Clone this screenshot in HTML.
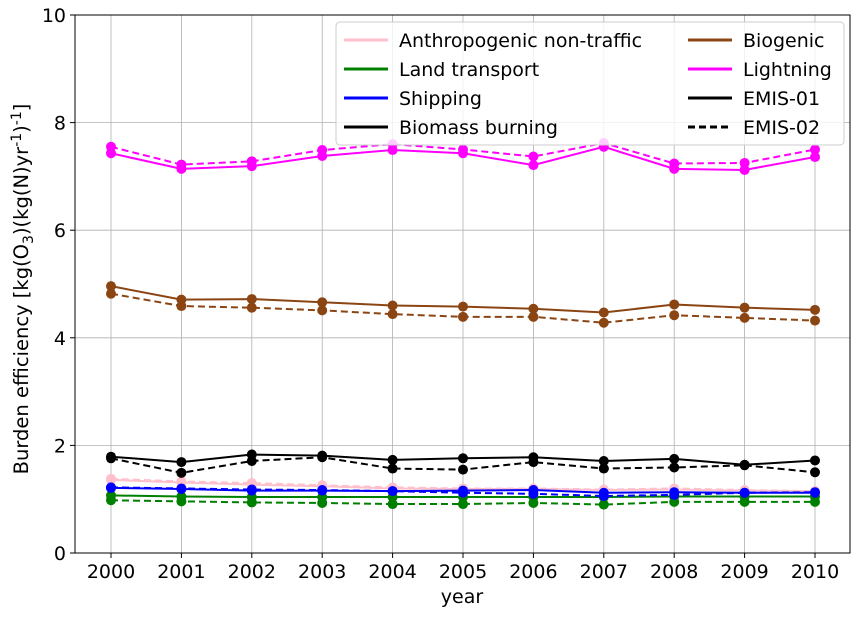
<!DOCTYPE html>
<html><head><meta charset="utf-8"><style>
body{margin:0;background:#fff}
svg{font-family:"DejaVu Sans","Liberation Sans",sans-serif}
</style></head><body>
<svg id="c" width="860" height="614" xmlns="http://www.w3.org/2000/svg">
<rect width="860" height="614" fill="#fff"/>
<g id="grid"></g>
<g id="series"></g>
<rect x="75" y="15" width="775" height="538" fill="none" stroke="#000" stroke-width="1"/>
<g id="axes"></g>
<text x="462" y="603" text-anchor="middle" font-size="19">year</text>
<text transform="translate(28,289) rotate(-90)" text-anchor="middle" font-size="19.5">Burden efficiency [kg(O<tspan font-size="14" dy="5">3</tspan><tspan dy="-5">)(kg(N)yr</tspan><tspan font-size="14" dy="-7">-1</tspan><tspan dy="7">)</tspan><tspan font-size="14" dy="-7">-1</tspan><tspan dy="7">]</tspan></text>
<g id="legend">
<rect x="336" y="22" width="508" height="123" rx="4" fill="#fff" fill-opacity="0.8" stroke="#ccc"/>
</g>
</svg>
<script>
const years=[2000,2001,2002,2003,2004,2005,2006,2007,2008,2009,2010];
const yTicks=[0,2,4,6,8,10];
const lightning1=[7.43,7.14,7.19,7.38,7.49,7.43,7.21,7.55,7.14,7.12,7.36];
const lightning2=[7.55,7.22,7.28,7.49,7.6,7.5,7.37,7.62,7.24,7.25,7.5];
const biogenic1=[4.96,4.71,4.72,4.66,4.6,4.58,4.54,4.47,4.62,4.56,4.52];
const biogenic2=[4.82,4.59,4.56,4.51,4.44,4.39,4.39,4.28,4.42,4.37,4.32];
const biomass1=[1.79,1.69,1.83,1.81,1.73,1.76,1.78,1.71,1.75,1.64,1.72];
const biomass2=[1.76,1.49,1.71,1.78,1.57,1.55,1.69,1.57,1.59,1.63,1.50];
const anthro1=[1.36,1.31,1.27,1.24,1.2,1.19,1.19,1.17,1.18,1.16,1.15];
const anthro2=[1.38,1.33,1.3,1.26,1.22,1.2,1.2,1.18,1.2,1.17,1.15];
const ship1=[1.21,1.19,1.16,1.16,1.15,1.16,1.17,1.12,1.13,1.12,1.12];
const ship2=[1.22,1.2,1.18,1.17,1.15,1.12,1.1,1.06,1.08,1.12,1.13];
const land1=[1.07,1.05,1.04,1.04,1.04,1.04,1.04,1.04,1.05,1.05,1.05];
const land2=[0.98,0.96,0.94,0.93,0.91,0.91,0.93,0.9,0.95,0.95,0.95];
const NS="http://www.w3.org/2000/svg";
const X=v=>111+(v-2000)*70.4, Y=v=>553-v*53.8;
function mk(t,a,p){const e=document.createElementNS(NS,t);for(const k in a)e.setAttribute(k,a[k]);p.appendChild(e);return e;}
const grid=document.getElementById('grid'),axes=document.getElementById('axes'),ser=document.getElementById('series'),leg=document.getElementById('legend');
years.forEach(y=>{
 const g=mk('line',{x1:X(y),x2:X(y),y1:15,y2:553,stroke:'#b0b0b0','stroke-width':0.8},grid);
 
 
 mk('line',{x1:X(y),x2:X(y),y1:553,y2:558,stroke:'#000'},axes);
 const t=mk('text',{x:X(y),y:578,'text-anchor':'middle','font-size':19},axes);t.textContent=y;
 
 
});
yTicks.forEach(v=>{
 const g=mk('line',{x1:75,x2:850,y1:Y(v),y2:Y(v),stroke:'#b0b0b0','stroke-width':0.8},grid);
 
 
 mk('line',{x1:70,x2:75,y1:Y(v),y2:Y(v),stroke:'#000'},axes);
 const t=mk('text',{x:66,y:Y(v)+7,'text-anchor':'end','font-size':19},axes);t.textContent=v;
 
 
});
const S=[['land-transport',land1,land2,'green'],['anthropogenic-non-traffic',anthro1,anthro2,'pink'],['shipping',ship1,ship2,'blue'],['biomass-burning',biomass1,biomass2,'black'],['biogenic',biogenic1,biogenic2,'#8b4513'],['lightning',lightning1,lightning2,'magenta']];
S.forEach(([n,a,b,c])=>{
 [[a,null,'emis-01'],[b,'7,4','emis-02']].forEach(([d,dash,tag])=>{
  const p=mk('polyline',{points:d.map((v,i)=>X(years[i])+','+Y(v)).join(' '),fill:'none',stroke:c,'stroke-width':2},ser);
  if(dash)p.setAttribute('stroke-dasharray',dash);
  
  
  d.forEach((v,i)=>{const m=mk('circle',{cx:X(years[i]),cy:Y(v),r:5,fill:c},ser);
   
   });
 });
});
const L=[['Anthropogenic non-traffic','pink',null,344,40],['Land transport','green',null,344,69],['Shipping','blue',null,344,98],['Biomass burning','black',null,344,127],['Biogenic','#8b4513',null,688,40],['Lightning','magenta',null,688,69],['EMIS-01','black',null,688,98],['EMIS-02','black','7,4',688,127]];
L.forEach(([t,c,dash,x,y])=>{
 const l=mk('line',{x1:x,x2:x+44,y1:y,y2:y,stroke:c,'stroke-width':3},leg);
 if(dash)l.setAttribute('stroke-dasharray',dash);
 const tx=mk('text',{x:x+55,y:y+7,'font-size':19},leg);tx.textContent=t;
 
 
});
</script>
</body></html>
